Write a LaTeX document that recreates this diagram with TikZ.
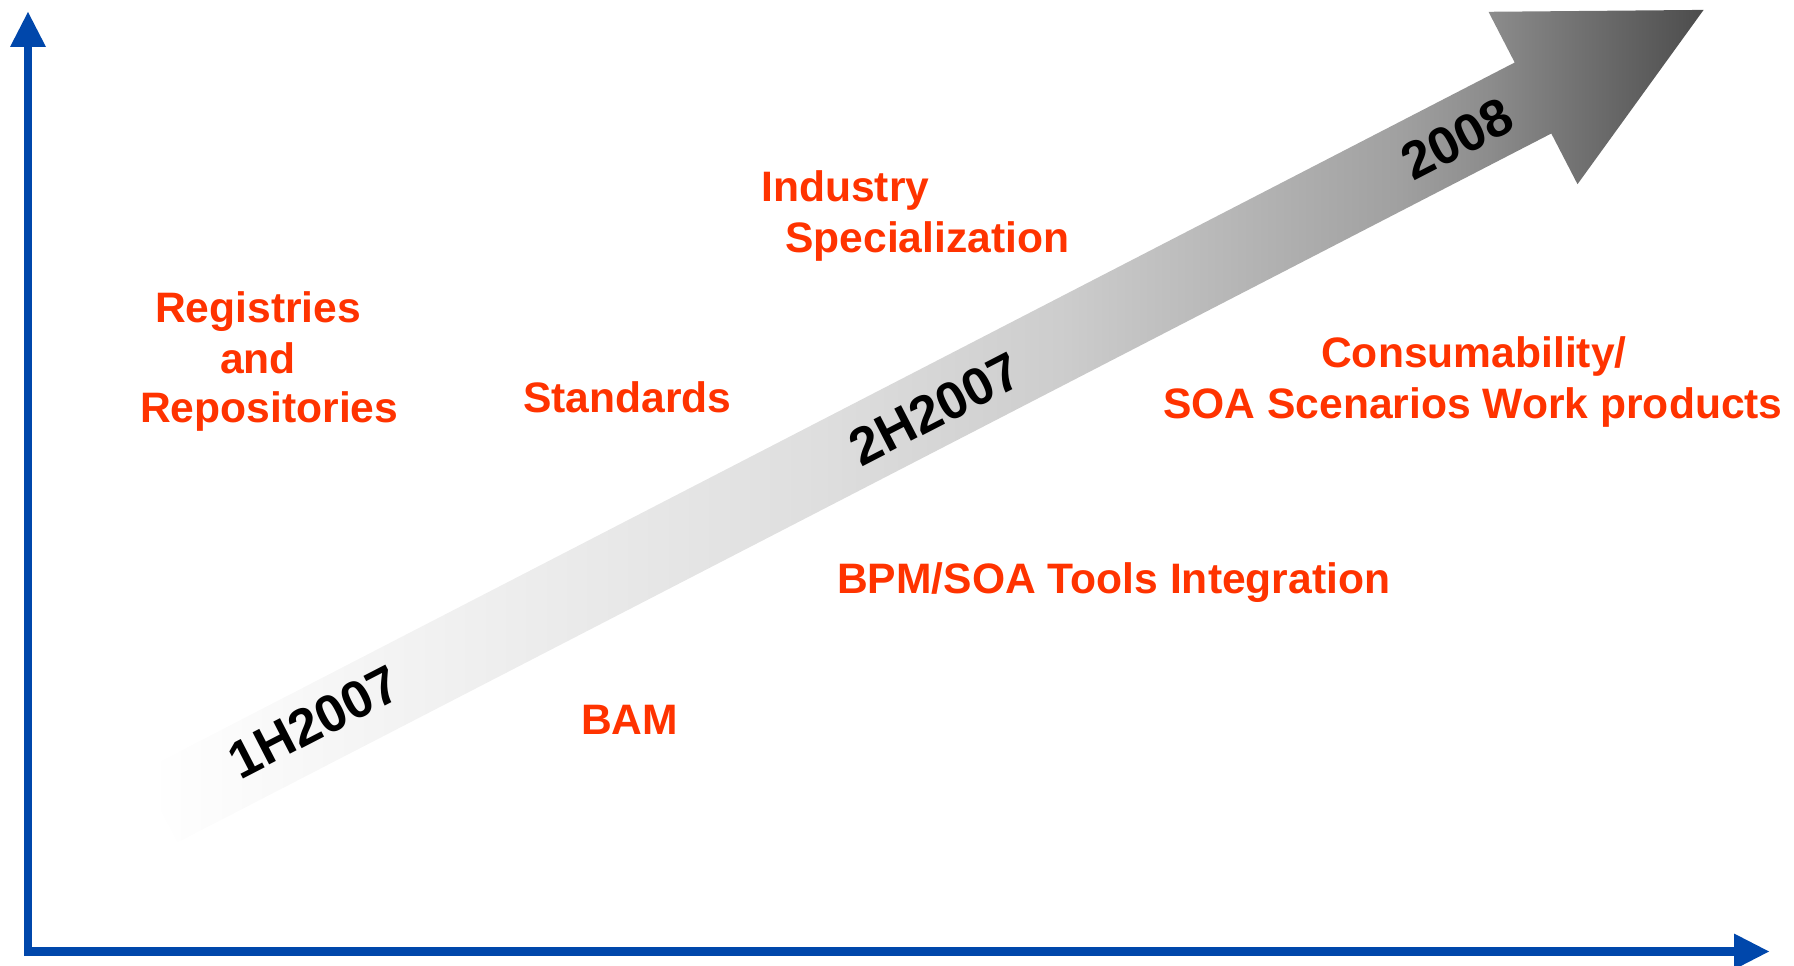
\documentclass[tikz,border=0pt]{standalone}
\usepackage{fontspec}
\setmainfont{Liberation Sans}
\definecolor{axisblue}{RGB}{0,71,171}
\definecolor{labelred}{RGB}{255,51,0}
\definecolor{sA}{RGB}{222,222,222}
\definecolor{sB}{RGB}{205,205,205}
\definecolor{sC}{RGB}{160,160,160}
\definecolor{sD}{RGB}{140,140,140}
\definecolor{sE}{RGB}{76,76,76}
\pgfdeclarehorizontalshading{arrowshade}{100bp}{color(0bp)=(white); color(25.3bp)=(white); color(46.75bp)=(sA); color(54.4bp)=(sB); color(65.3bp)=(sC); color(68.15bp)=(sD); color(75bp)=(sE); color(100bp)=(sE)}
\tikzset{
  axisline/.style={draw=axisblue, line width=8.5pt, line join=miter},
  axishead/.style={fill=axisblue},
  redlabel/.style={text=labelred, inner sep=0pt, anchor=base west, font=\fontsize{42.6}{50}\selectfont\bfseries},
  yearlabel/.style={text=black, inner sep=0pt, anchor=center, rotate=27.3, font=\fontsize{52.5}{60}\selectfont\bfseries},
}
\begin{document}
\begin{tikzpicture}[x=1pt,y=-1pt]
\useasboundingbox (0,0) rectangle (1794,966);
% axes
\coordinate (origin) at (28,951.5);
\coordinate (ybase) at (28,47);
\coordinate (xbase) at (1734,951.5);
\draw[axisline] (ybase) -- (origin) -- (xbase);
\fill[axishead] (28,12) -- (10,47) -- (46,47) -- cycle;
\fill[axishead] (1769,951.5) -- (1734,933.5) -- (1734,969.5) -- cycle;
% big shaded arrow
\shade[shading=arrowshade] (140.7,771.5) -- (1514.7,62.5) -- (1488.5,11.8) -- (1703.6,9.9) -- (1577.5,184.2) -- (1551.3,133.5) -- (177.3,842.5) -- cycle;
% year labels
\node[yearlabel] (y1) at (314,722) {1H2007};
\node[yearlabel] (y2) at (935,409) {2H2007};
\node[yearlabel] (y3) at (1457,139) {2008};
% red labels
\node[redlabel] (reg1) at (155,322) {Registries};
\node[redlabel] (reg2) at (220,373) {and};
\node[redlabel] (reg3) at (140,422) {Repositories};
\node[redlabel] (std) at (523,412) {Standards};
\node[redlabel] (ind1) at (761,201) {Industry};
\node[redlabel] (ind2) at (785,252) {Specialization};
\node[redlabel] (con1) at (1321,367) {Consumability/};
\node[redlabel] (con2) at (1163,418) {SOA Scenarios Work products};
\node[redlabel] (bpm) at (837,593) {BPM/SOA Tools Integration};
\node[redlabel] (bam) at (581,734) {BAM};
\end{tikzpicture}
\end{document}
